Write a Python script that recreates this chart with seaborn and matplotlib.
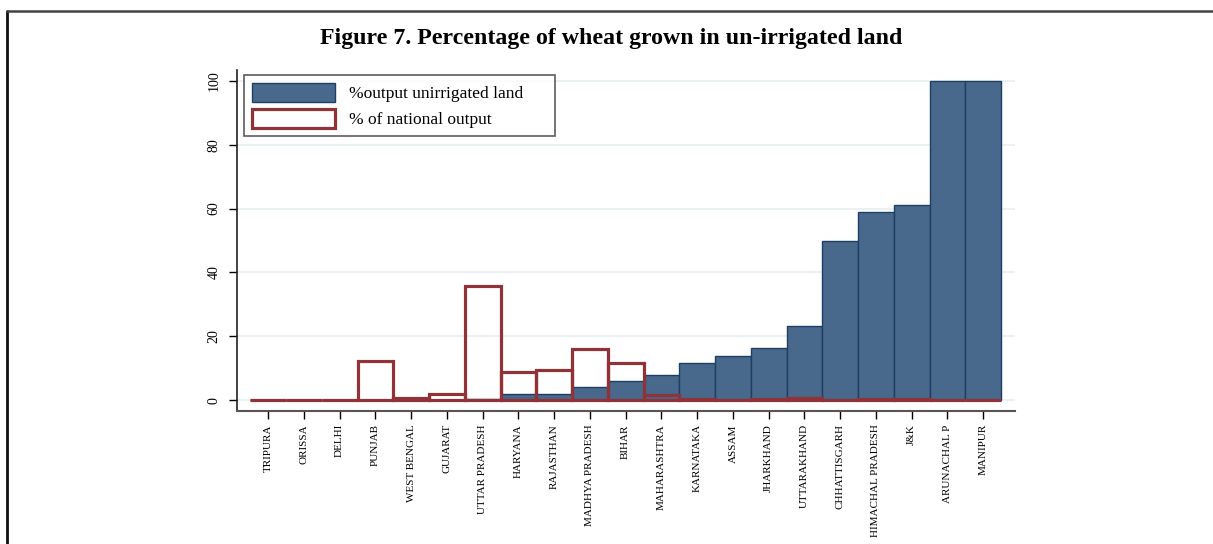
import pandas as pd
import numpy as np
import matplotlib
matplotlib.use("Agg")
import matplotlib.pyplot as plt
import seaborn as sns
from matplotlib.patches import Patch
from matplotlib.lines import Line2D

# states, sorted by share of wheat grown on unirrigated land
states = ["TRIPURA", "ORISSA", "DELHI", "PUNJAB", "WEST BENGAL", "GUJARAT",
          "UTTAR PRADESH", "HARYANA", "RAJASTHAN", "MADHYA PRADESH", "BIHAR",
          "MAHARASHTRA", "KARNATAKA", "ASSAM", "JHARKHAND", "UTTARAKHAND",
          "CHHATTISGARH", "HIMACHAL PRADESH", "J&K", "ARUNACHAL P", "MANIPUR"]
unirrigated = [0, 0, 0, 0, 0, 0, 0.5, 1.8, 1.8, 4.0, 6.0, 8.0, 11.7, 13.8,
               16.4, 23.1, 49.7, 58.8, 61.2, 100, 100]
national = [0, 0, 0.1, 12.4, 0.6, 1.9, 35.7, 8.9, 9.4, 16.1, 11.5, 1.7, 0.2,
            0.05, 0.4, 0.6, 0.1, 0.4, 0.5, 0, 0]

df = pd.DataFrame({"state": states, "unirr": unirrigated, "nat": national})

blue = "#48698b"
blue_edge = "#1e3f63"
red = "#8f3339"

sns.set_style("white")
plt.rcParams["font.family"] = ["Liberation Serif", "DejaVu Serif"]
plt.rcParams["text.color"] = "black"
plt.rcParams["xtick.color"] = "black"
plt.rcParams["ytick.color"] = "black"

fig = plt.figure(figsize=(12.13, 5.44), dpi=100)
ax = fig.add_axes([0.1954, 0.2445, 0.6414, 0.6268])

for y in range(0, 101, 20):
    ax.axhline(y, color="#eaf1f2", lw=1.5, zorder=0)

sns.barplot(data=df, x="state", y="unirr", color=blue, width=1,
            edgecolor=blue_edge, linewidth=1, saturation=1, ax=ax, zorder=2)
sns.barplot(data=df, x="state", y="nat", color=red, width=1, fill=False,
            linewidth=2.3, ax=ax, zorder=3)

ax.set_xlim(-0.87, 20.89)
ax.set_ylim(-3.4, 103.4)
ax.set_yticks(range(0, 101, 20))
ax.set_xlabel("")
ax.set_ylabel("")
ax.tick_params(axis="y", left=True, length=6, width=1, pad=6, labelsize=10,
               labelrotation=90)
for t in ax.get_yticklabels():
    t.set_va("center")
ax.tick_params(axis="x", bottom=True, length=6, width=1, pad=3.5, labelsize=8)
ax.set_xticks(range(len(states)))
ax.set_xticklabels(states, rotation=90, va="top", ha="center")

sns.despine(ax=ax)
ax.spines["left"].set_color("#222222")
ax.spines["bottom"].set_color("#555555")
ax.spines["left"].set_linewidth(1.2)
ax.spines["bottom"].set_linewidth(1.5)

handles = [Patch(facecolor=blue, edgecolor=blue_edge, lw=1),
           Patch(facecolor="white", edgecolor=red, lw=2.3)]
leg = ax.legend(handles, ["%output unirrigated land", "% of national output"],
                loc="upper left", bbox_to_anchor=(0.009, 0.0, 0.4, 0.985),
                mode="expand", borderaxespad=0,
                fontsize=12.5, frameon=True, fancybox=False, handlelength=4.8,
                handleheight=1.35, handletextpad=0.8, borderpad=0.45,
                labelspacing=0.35)
leg.get_frame().set_edgecolor("#333333")
leg.get_frame().set_linewidth(1.2)

fig.text(0.504, 0.93, "Figure 7. Percentage of wheat grown in un-irrigated land",
         ha="center", va="center", fontsize=17.2, fontweight="bold")

# outer frame
fig.add_artist(Line2D([7 / 1213, 7 / 1213], [0, 1 - 10.5 / 544],
                      color="#111111", lw=2, transform=fig.transFigure))
fig.add_artist(Line2D([7 / 1213, 1], [1 - 10.5 / 544, 1 - 10.5 / 544],
                      color="#444444", lw=1.8, transform=fig.transFigure))

fig.savefig("out.png", dpi=100)
